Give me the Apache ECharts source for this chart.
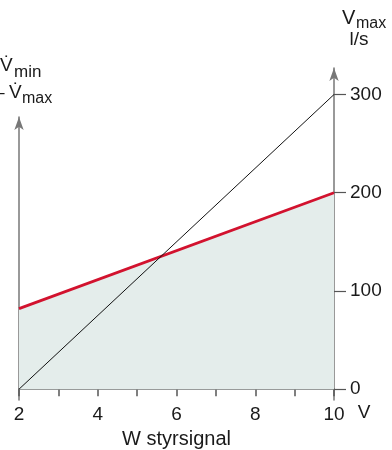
<!DOCTYPE html>
<html>
<head>
<meta charset="utf-8">
<script src="https://cdn.jsdelivr.net/npm/echarts@6/dist/echarts.min.js"></script>
<style>html,body{margin:0;padding:0;background:#fff;}#c{width:392px;height:450px;}</style>
</head>
<body>
<div id="c"></div>
<script>
// ---- data ----
const xRange = [2, 10];
const vminLine = [82, 200];      // red line (V̇min), l/s at 2 V and 10 V
const vmaxLine = [0, 300];       // black line (V̇max), l/s at 2 V and 10 V
const xTickLabels = [2, 4, 6, 8, 10];
const yTickLabels = [0, 100, 200, 300];
const xTicks = [2, 3, 4, 5, 6, 7, 8, 9, 10];

const FONT = '"Liberation Sans", Arial, sans-serif';
const chart = echarts.init(document.getElementById('c'), null, {renderer: 'canvas'});

const redData = xRange.map((x, i) => [x, vminLine[i]]);
const blackData = xRange.map((x, i) => [x, vmaxLine[i]]);

const txt = (t, x, y, size, align) => ({
  type: 'text', x: x, y: y, silent: true,
  style: {text: t, fontSize: size, fontFamily: FONT, fill: '#1a1a1a', align: align || 'left', verticalAlign: 'middle'}
});

chart.setOption({
  animation: false,
  grid: [
    {left: 19, right: 58, top: 68, bottom: 50, containLabel: false, outerBoundsMode: 'none'},
    {left: 19, right: 58, top: 117, bottom: 50, containLabel: false, outerBoundsMode: 'none'}
  ],
  xAxis: [
    {
      type: 'value', gridIndex: 0, min: 2, max: 10, interval: 1,
      axisLine: {onZero: true, lineStyle: {color: '#555', width: 1.5}},
      axisTick: {show: true, length: 7, inside: false, customValues: xTicks, lineStyle: {color: '#555', width: 1.5}},
      axisLabel: {customValues: xTickLabels, margin: 5, fontSize: 19, fontFamily: FONT, color: '#1a1a1a'},
      splitLine: {show: false},
      name: 'W styrsignal', nameLocation: 'middle', nameGap: 29,
      nameTextStyle: {fontSize: 20, fontFamily: FONT, color: '#1a1a1a'}
    },
    {type: 'value', gridIndex: 1, min: 2, max: 10, show: false}
  ],
  yAxis: [
    {
      type: 'value', gridIndex: 0, position: 'right', min: -11, max: 327,
      axisLine: {show: true, symbol: ['none', 'arrow'], symbolSize: [7, 13], lineStyle: {color: '#777', width: 1.5}},
      axisTick: {show: true, inside: false, length: 12, customValues: yTickLabels, lineStyle: {color: '#555', width: 1.2}},
      axisLabel: {customValues: yTickLabels, margin: 16, fontSize: 19, fontFamily: FONT, color: '#1a1a1a'},
      splitLine: {show: false}
    },
    {
      type: 'value', gridIndex: 1, position: 'left', min: -11, max: 277,
      axisLine: {show: true, symbol: ['none', 'arrow'], symbolSize: [7, 13], lineStyle: {color: '#777', width: 1.5}},
      axisTick: {show: false}, axisLabel: {show: false}, splitLine: {show: false}
    }
  ],
  series: [
    {
      type: 'line', xAxisIndex: 0, yAxisIndex: 0, data: redData, showSymbol: false, symbol: 'none',
      lineStyle: {color: '#d2122e', width: 2.8},
      areaStyle: {color: '#e4edeb', opacity: 1, origin: 0},
      z: 2
    },
    {
      type: 'line', xAxisIndex: 0, yAxisIndex: 0, data: blackData, showSymbol: false, symbol: 'none',
      lineStyle: {color: '#111', width: 1},
      z: 3
    }
  ],
  graphic: [
    txt('V\u0307', 0, 66, 19),
    txt('min', 14, 72, 17),
    txt('\u2013', -6, 93, 19),
    txt('V\u0307', 9, 93, 19),
    txt('max', 22, 99, 16),
    txt('V', 342, 18, 20),
    txt('max', 356, 24, 16),
    txt('l/s', 359, 40, 19, 'center'),
    txt('V', 364, 413, 19, 'center')
  ]
});
</script>
</body>
</html>
